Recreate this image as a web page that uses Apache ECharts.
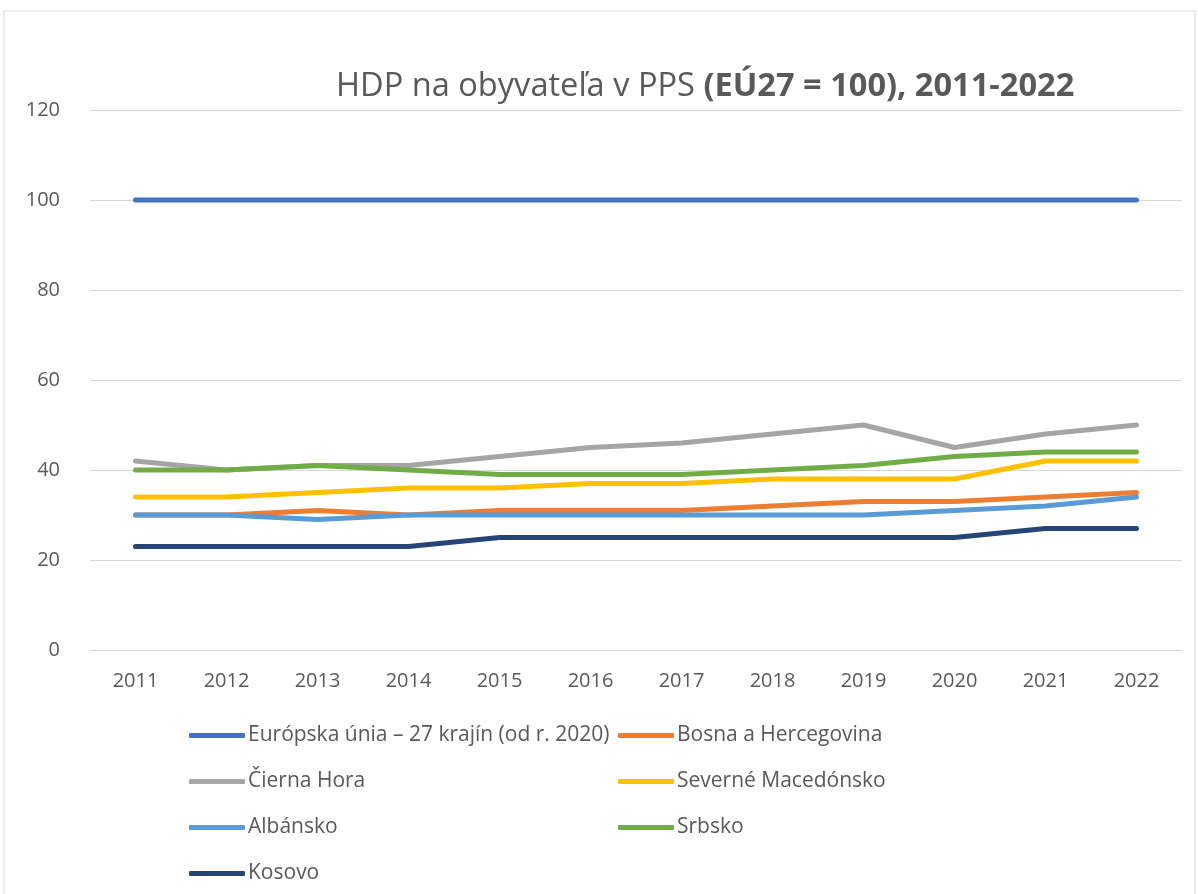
<!DOCTYPE html>
<html><head><meta charset="utf-8">
<script src="https://cdn.jsdelivr.net/npm/echarts@6/dist/echarts.min.js"></script>
<style>html,body{margin:0;padding:0;background:#fff}#c{width:1198px;height:894px}</style>
</head><body><div id="c"></div>
<script>
const years = ['2011','2012','2013','2014','2015','2016','2017','2018','2019','2020','2021','2022'];
const seriesNames = ['Európska únia – 27 krajín (od r. 2020)','Bosna a Hercegovina','Čierna Hora','Severné Macedónsko','Albánsko','Srbsko','Kosovo'];
const eu = [100,100,100,100,100,100,100,100,100,100,100,100];
const bosnia = [30,30,31,30,31,31,31,32,33,33,34,35];
const montenegro = [42,40,41,41,43,45,46,48,50,45,48,50];
const northMacedonia = [34,34,35,36,36,37,37,38,38,38,42,42];
const albania = [30,30,29,30,30,30,30,30,30,31,32,34];
const serbia = [40,40,41,40,39,39,39,40,41,43,44,44];
const kosovo = [23,23,23,23,25,25,25,25,25,25,27,27];
const yTicks = [0,20,40,60,80,100,120];

const values = [eu,bosnia,montenegro,northMacedonia,albania,serbia,kosovo];
const colors = ['#4472C4','#ED7D31','#A5A5A5','#FFC000','#5B9BD5','#70AD47','#264478'];
const FONT = "'Open Sans', sans-serif";

const chart = echarts.init(document.getElementById('c'));
const legendBase = {
  orient: 'vertical', top: 720, itemWidth: 56, itemHeight: 5, itemGap: 25, icon: 'roundRect',
  textStyle: {fontFamily: FONT, fontSize: 21, lineHeight: 20, color: '#595959', padding: [0,0,0,-2]}
};
chart.setOption({
  animation: false,
  color: colors,
  title: {
    text: '{n|HDP na obyvateľa v PPS }{b|(EÚ27 = 100), 2011-2022}',
    left: 331, top: 65,
    textStyle: {rich: {
      n: {fontFamily: FONT, fontSize: 32.6, color: '#595959', fontWeight: 'normal'},
      b: {fontFamily: FONT, fontSize: 32.6, color: '#595959', fontWeight: 'bold'}
    }}
  },
  graphic: [{type: 'rect', shape: {x: 4, y: 11, width: 1191, height: 900}, style: {fill: 'none', stroke: '#d9d9d9', lineWidth: 1}, silent: true}],
  legend: [
    Object.assign({}, legendBase, {left: 184, data: [seriesNames[0], seriesNames[2], seriesNames[4], seriesNames[6]]}),
    Object.assign({}, legendBase, {left: 613, data: [seriesNames[1], seriesNames[3], seriesNames[5]]})
  ],
  grid: {left: 90, right: 16, top: 110, bottom: 244},
  xAxis: {
    type: 'category', data: years, boundaryGap: true,
    axisLine: {lineStyle: {color: '#d9d9d9', width: 1}},
    axisTick: {show: false},
    axisLabel: {fontFamily: FONT, fontSize: 20, color: '#595959', margin: 21}
  },
  yAxis: {
    type: 'value', min: yTicks[0], max: yTicks[yTicks.length-1], interval: 20,
    axisLine: {show: false}, axisTick: {show: false},
    splitLine: {lineStyle: {color: '#d9d9d9', width: 1}},
    axisLabel: {fontFamily: FONT, fontSize: 20, color: '#595959', margin: 30}
  },
  series: values.map((v, i) => ({
    name: seriesNames[i], type: 'line', data: v, symbol: 'none',
    lineStyle: {width: 5, cap: 'round', join: 'round', color: colors[i]},
    itemStyle: {color: colors[i]}
  }))
});
</script></body></html>
